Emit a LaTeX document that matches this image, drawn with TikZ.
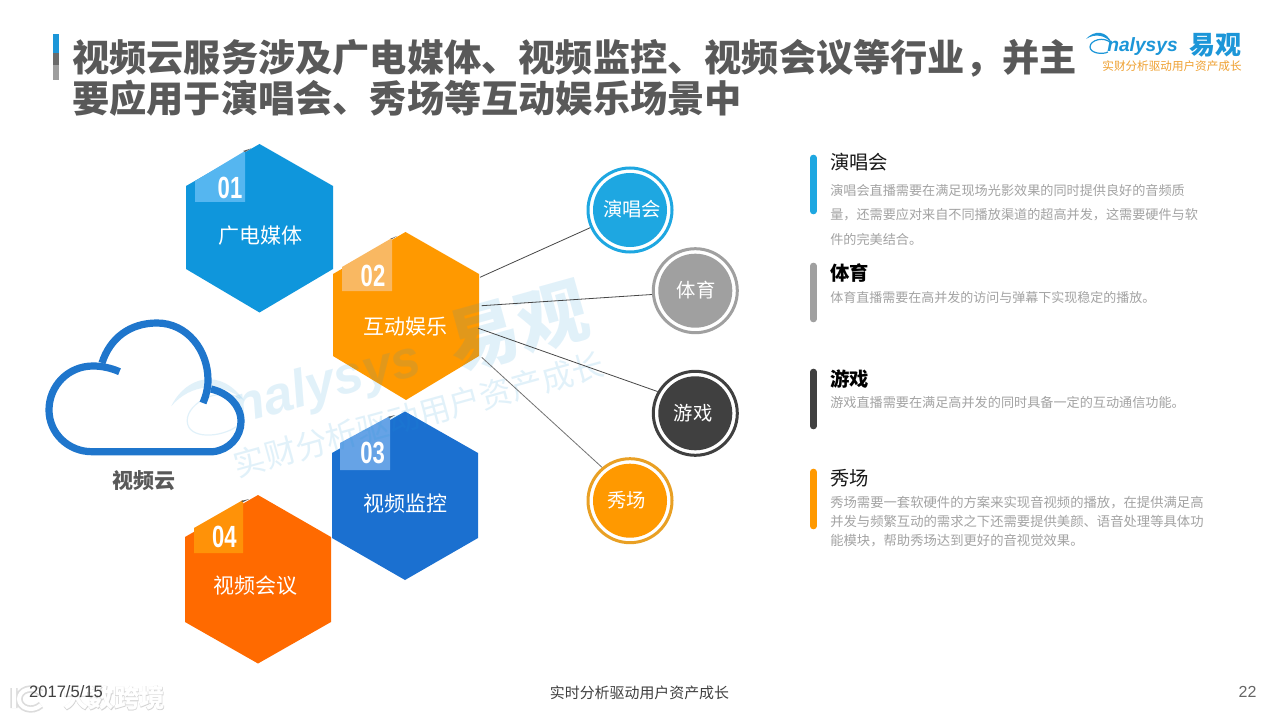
\documentclass[tikz,border=0pt]{standalone}
\usepackage{fontspec}
\setmainfont{Noto Sans CJK SC}
\newfontfamily\latinf{Liberation Sans}
\newfontfamily\numf[FakeStretch=0.72]{Liberation Sans}
\newfontfamily\glowf[FakeBold=3]{Noto Sans CJK SC}
\definecolor{hexa}{HTML}{0F96DC}
\definecolor{hexb}{HTML}{FF9900}
\definecolor{hexc}{HTML}{1B70D0}
\definecolor{hexd}{HTML}{FF6A00}
\definecolor{taba}{HTML}{55B6F0}
\definecolor{tabb}{HTML}{F9B862}
\definecolor{tabc}{HTML}{66A3E6}
\definecolor{tabd}{HTML}{FF9208}
\definecolor{cira}{HTML}{1EA7E1}
\definecolor{cirb}{HTML}{A0A0A0}
\definecolor{circ}{HTML}{404040}
\definecolor{cird}{HTML}{FF9900}
\definecolor{ringd}{HTML}{E9A024}
\definecolor{titlec}{HTML}{595959}
\definecolor{bodyc}{HTML}{A3A3A3}
\definecolor{cloudc}{HTML}{1F76CC}
\definecolor{logob}{HTML}{1C96D8}
\definecolor{logoo}{HTML}{EFA030}
\tikzset{
  hexlabel/.style={inner sep=0pt,text=white,font=\fontsize{15.75}{18}\selectfont},
  tabnum/.style={inner sep=0pt,text=white,font=\numf\bfseries\fontsize{23}{24}\selectfont},
  ringnode/.style={circle,fill=white,line width=2.25pt,minimum size=63pt,inner sep=0pt},
  innernode/.style={circle,minimum size=55.5pt,inner sep=0pt,fill=none,text=white,font=\fontsize{14.5}{16}\selectfont},
  circlabel/.style={inner sep=0pt,text=white,font=\fontsize{14.5}{16}\selectfont},
  link/.style={line width=0.6pt,draw=black!72},
  headtext/.style={anchor=west,inner sep=0pt,font=\fontsize{14.5}{17}\selectfont,text=black!90},
  headbold/.style={anchor=west,inner sep=0pt,font=\bfseries\fontsize{14.5}{17}\selectfont,text=black},
  bartag/.style={line width=5pt,line cap=round},
  foot/.style={inner sep=0pt,text=black!75}
}
% logo drawn about its own centre
\newcommand{\logomark}[2]{%
  \fill[#1] (-78,-11) .. controls (-70,-20) and (-57,-20) .. (-52,-6) .. controls (-58,-15) and (-69,-17) .. (-78,-11) -- cycle;
  \draw[#1,line width=0.9pt] (-53,-7) .. controls (-60,-14) and (-74,-10) .. (-74,-3) .. controls (-74,3) and (-62,5) .. (-56,2);
  \node[inner sep=0pt,anchor=base west,text=#1,font=\latinf\itshape\bfseries\fontsize{14.4}{16}\selectfont] (#2n) at (-57,2) {nalysys};
  \node[inner sep=0pt,anchor=west,text=#1,font=\bfseries\fontsize{19.5}{20}\selectfont] (#2g) at (25,-5) {易观};
}
\begin{document}
\begin{tikzpicture}[x=0.75pt,y=-0.75pt]
\useasboundingbox (0,0) rectangle (1280,720);
\fill[white] (0,0) rectangle (1280,720);
% title
\fill[logob] (53,34) rectangle (59,53);
\fill[black!58] (53,53) rectangle (59,65);
\fill[black!38] (53,65) rectangle (59,80);
\node[anchor=west,inner sep=0pt,align=left,text=titlec,font=\bfseries\fontsize{27.9}{30.5}\selectfont] (title) at (72,78) {视频云服务涉及广电媒体、视频监控、视频会议等行业，并主\\要应用于演唱会、秀场等互动娱乐场景中};
% hexagons
\fill[hexa] (259.5,144) -- (333,186) -- (333,269) -- (259.5,312.5) -- (186,269) -- (186,186) -- cycle;
\fill[hexb] (405.5,232) -- (479,274) -- (479,356) -- (406,400) -- (333,356) -- (333,274) -- cycle;
\fill[hexc] (405,411.5) -- (478,453) -- (478,538) -- (405,580) -- (332,538) -- (332,453) -- cycle;
\fill[hexd] (258,495) -- (331,537) -- (331,622) -- (258,663.5) -- (185,622) -- (185,537) -- cycle;
% tabs
\fill[taba] (195,181) -- (245,151) -- (245,202) -- (195,202) -- cycle;
\fill[tabb] (342,267) -- (392,238) -- (392,291) -- (342,291) -- cycle;
\fill[tabc] (340,443) -- (390,416) -- (390,470) -- (340,470) -- cycle;
\fill[tabd] (194,528) -- (243,500) -- (243,553) -- (194,553) -- cycle;
\fill[black!65] (243,151) -- (251,148.5) -- (245,152) -- cycle;
\fill[black!65] (390,239) -- (397,236) -- (392,239) -- cycle;
\fill[black!65] (388,417) -- (395,415) -- (390,418) -- cycle;
\fill[black!65] (241,501) -- (249,499) -- (243,502) -- cycle;
% watermark
\begin{scope}[shift={(386,378)},rotate=15.5,scale=2.75,transform shape,opacity=0.13]
\logomark{logob}{w}
\node[inner sep=0pt,anchor=center,text=logob,font=\fontsize{8.7}{10}\selectfont] (wt) at (8,16) {实财分析驱动用户资产成长};
\end{scope}
\node[tabnum] (n1) at (230,187.5) {01};
\node[tabnum] (n2) at (373,275.7) {02};
\node[tabnum] (n3) at (372.7,453.3) {03};
\node[tabnum] (n4) at (224.3,537.3) {04};
\node[hexlabel] (h1) at (260,236) {广电媒体};
\node[hexlabel] (h2) at (405,327) {互动娱乐};
\node[hexlabel] (h3) at (405.5,503.5) {视频监控};
\node[hexlabel] (h4) at (255,586) {视频会议};
% cloud
\draw[cloudc,line width=5.4pt] (102,363) .. controls (110,338) and (130,323) .. (157,323) .. controls (187,323) and (208,350) .. (208,380) .. controls (208,388) and (206,396) .. (203,403);
\draw[cloudc,line width=5.4pt] (119.5,371.7) .. controls (111,368) and (102,366) .. (93,366) .. controls (68,366) and (49,386) .. (49,410) .. controls (49,433) and (68,451.7) .. (92,451.7) -- (213,451.7) .. controls (229,450) and (241,437) .. (241,421.7) .. controls (241,405) and (228,393) .. (211,389);
\node[inner sep=0pt,text=titlec,font=\bfseries\fontsize{15.75}{18}\selectfont] (cloudlabel) at (143.5,481) {视频云};
% circles
\node[ringnode,draw=cira] (c1) at (630,210) {};
\fill[cira] (c1) circle[radius=37];
\node[circlabel] (l1) at (632,209.5) {演唱会};
\node[ringnode,draw=cirb] (c2) at (695.3,290.7) {};
\fill[cirb] (c2) circle[radius=37];
\node[circlabel] (l2) at (696,290) {体育};
\node[ringnode,draw=circ] (c3) at (695.3,413.3) {};
\fill[circ] (c3) circle[radius=37];
\node[circlabel] (l3) at (693,413) {游戏};
\node[ringnode,draw=ringd] (c4) at (630,500.7) {};
\fill[cird] (c4) circle[radius=37];
\node[circlabel] (l4) at (626.5,500.5) {秀场};
% connectors
\coordinate (a1) at (480,277.3);
\coordinate (a2) at (481.7,305.7);
\coordinate (a3) at (478.3,328.3);
\coordinate (a4) at (481.7,357.3);
\draw[link] (a1) -- (c1.204.6);
\draw[link] (a2) -- (c2.185.6);
\draw[link] (a3) -- (c3.150.8);
\draw[link,draw=black!55] (a4) -- (c4.130.8);
% right column
\draw[bartag,cira] (813.3,158) -- (813.3,211);
\draw[bartag,cirb] (813.3,266) -- (813.3,319);
\draw[bartag,circ] (813.3,372) -- (813.3,426);
\draw[bartag,cird] (813.3,472) -- (813.3,526);
\node[headtext] (t1) at (830,162) {演唱会};
\node[headbold] (t2) at (830,273) {体育};
\node[headbold] (t3) at (830,379) {游戏};
\node[headtext] (t4) at (830,478) {秀场};
\node[anchor=west,inner sep=0pt,align=left,text=bodyc,font=\fontsize{9.85}{18.4}\selectfont] (b1) at (830,214.5) {演唱会直播需要在满足现场光影效果的同时提供良好的音频质\\量，还需要应对来自不同播放渠道的超高并发，这需要硬件与软\\件的完美结合。};
\node[anchor=west,inner sep=0pt,text=bodyc,font=\fontsize{9.75}{12}\selectfont] (b2) at (830,298) {体育直播需要在高并发的访问与弹幕下实现稳定的播放。};
\node[anchor=west,inner sep=0pt,text=bodyc,font=\fontsize{9.85}{12}\selectfont] (b3) at (830,403) {游戏直播需要在满足高并发的同时具备一定的互动通信功能。};
\node[anchor=west,inner sep=0pt,align=left,text=bodyc,font=\fontsize{10}{14.25}\selectfont] (b4) at (830,522) {秀场需要一套软硬件的方案来实现音视频的播放，在提供满足高\\并发与频繁互动的需求之下还需要提供美颜、语音处理等具体功\\能模块，帮助秀场达到更好的音视觉效果。};
% logo
\begin{scope}[shift={(1164,50)}]
\logomark{logob}{k}
\node[inner sep=0pt,anchor=center,text=logoo,font=\fontsize{8.7}{10}\selectfont] (kt) at (8,16) {实财分析驱动用户资产成长};
\end{scope}
% footer
\node[inner sep=0pt,text=black!30,opacity=.4,font=\glowf\bfseries\fontsize{19}{20}\selectfont] (gw) at (114,698) {大数跨境};
\node[inner sep=0pt,text=white,font=\bfseries\fontsize{19}{20}\selectfont] (gt) at (114,698) {大数跨境};
\draw[black!30,opacity=.45,line width=5.5pt] (14,688) -- (14,708) (41,693) .. controls (32,685) and (19,690) .. (19,699) .. controls (19,708) and (32,713) .. (41,705);
\draw[white,line width=3pt] (14,688) -- (14,708) (41,693) .. controls (32,685) and (19,690) .. (19,699) .. controls (19,708) and (32,713) .. (41,705);
\node[foot,font=\latinf\fontsize{12.4}{14}\selectfont] (date) at (66,692) {2017/5/15};
\node[foot,font=\fontsize{11.2}{13}\selectfont] (ft) at (639.5,693) {实时分析驱动用户资产成长};
\node[foot,text=black!60,font=\latinf\fontsize{12}{14}\selectfont] (pg) at (1247.5,692) {22};
\end{tikzpicture}
\end{document}
